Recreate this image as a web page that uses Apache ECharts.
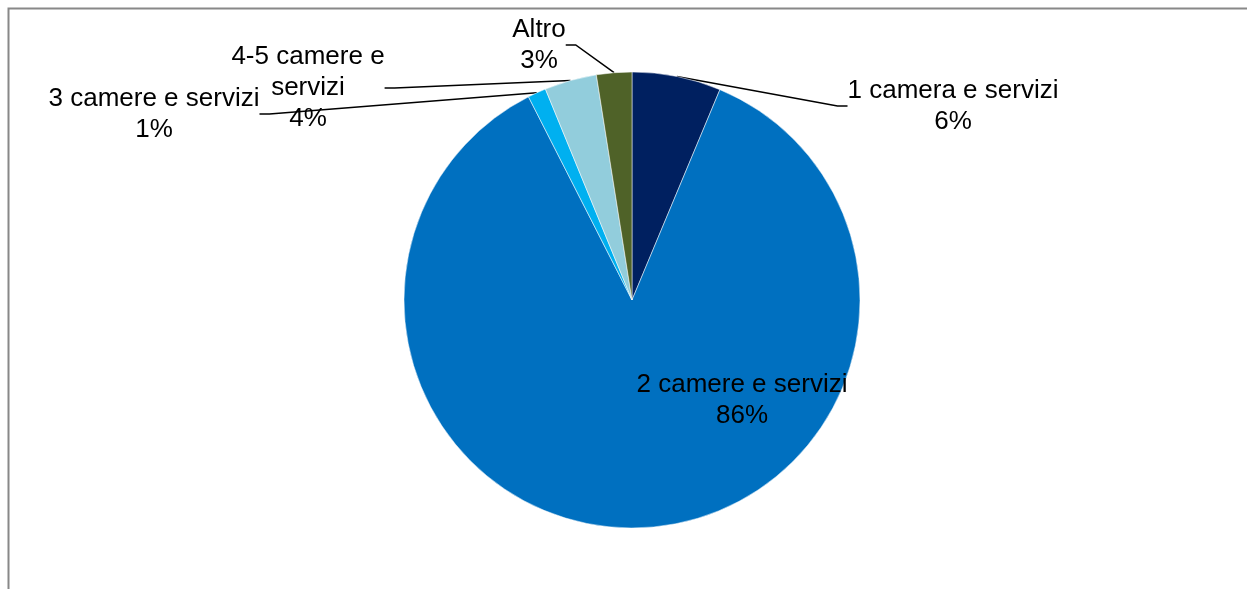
<!DOCTYPE html>
<html>
<head>
<meta charset="utf-8">
<script src="https://cdn.jsdelivr.net/npm/echarts@6/dist/echarts.min.js"></script>
<style>
html,body{margin:0;padding:0;background:#fff;}
#chart{width:1247px;height:589px;}
</style>
</head>
<body>
<div id="chart"></div>
<script>
var categories = ['1 camera e servizi', '2 camere e servizi', '3 camere e servizi', '4-5 camere e\nservizi', 'Altro'];
var values = [6.3, 86.2, 1.3, 3.7, 2.5];
var colors = ['#002060', '#0070C0', '#00B0F0', '#92CDDC', '#4F6228'];
var percentLabels = ['6%', '86%', '1%', '4%', '3%'];

// label anchor positions (text block centre)
var labelPos = [[953, 106], [742, 400], [154, 114], [308, 88], [539, 45]];

var chart = echarts.init(document.getElementById('chart'));
var data = categories.map(function (c, i) {
  var item = { name: c, value: values[i], itemStyle: { color: colors[i] } };
  if (i === 1) {
    item.label = { position: 'inside' };
    item.labelLine = { show: false };
  }
  return item;
});

chart.setOption({
  animation: false,
  graphic: [{
    type: 'rect', left: 6, top: 6, silent: true,
    shape: { width: 1300, height: 650 },
    style: { fill: 'none', stroke: '#888888', lineWidth: 2 }
  }],
  series: [{
    type: 'pie',
    center: [632, 300],
    radius: [0, 228],
    startAngle: 90,
    clockwise: true,
    data: data,
    itemStyle: { borderColor: '#ffffff', borderWidth: 0.5 },
    label: {
      show: true,
      formatter: function (p) { return p.name + '\n' + percentLabels[p.dataIndex]; },
      fontFamily: 'Liberation Sans, Arial, sans-serif',
      fontSize: 26,
      lineHeight: 31,
      color: '#000',
      align: 'center'
    },
    labelLine: {
      show: true,
      length: 20,
      length2: 10,
      lineStyle: { color: '#000', width: 1.5 }
    },
    labelLayout: function (p) {
      var pos = labelPos[p.dataIndex];
      return { x: pos[0], y: pos[1], align: 'center', verticalAlign: 'middle' };
    }
  }]
});
</script>
</body>
</html>
